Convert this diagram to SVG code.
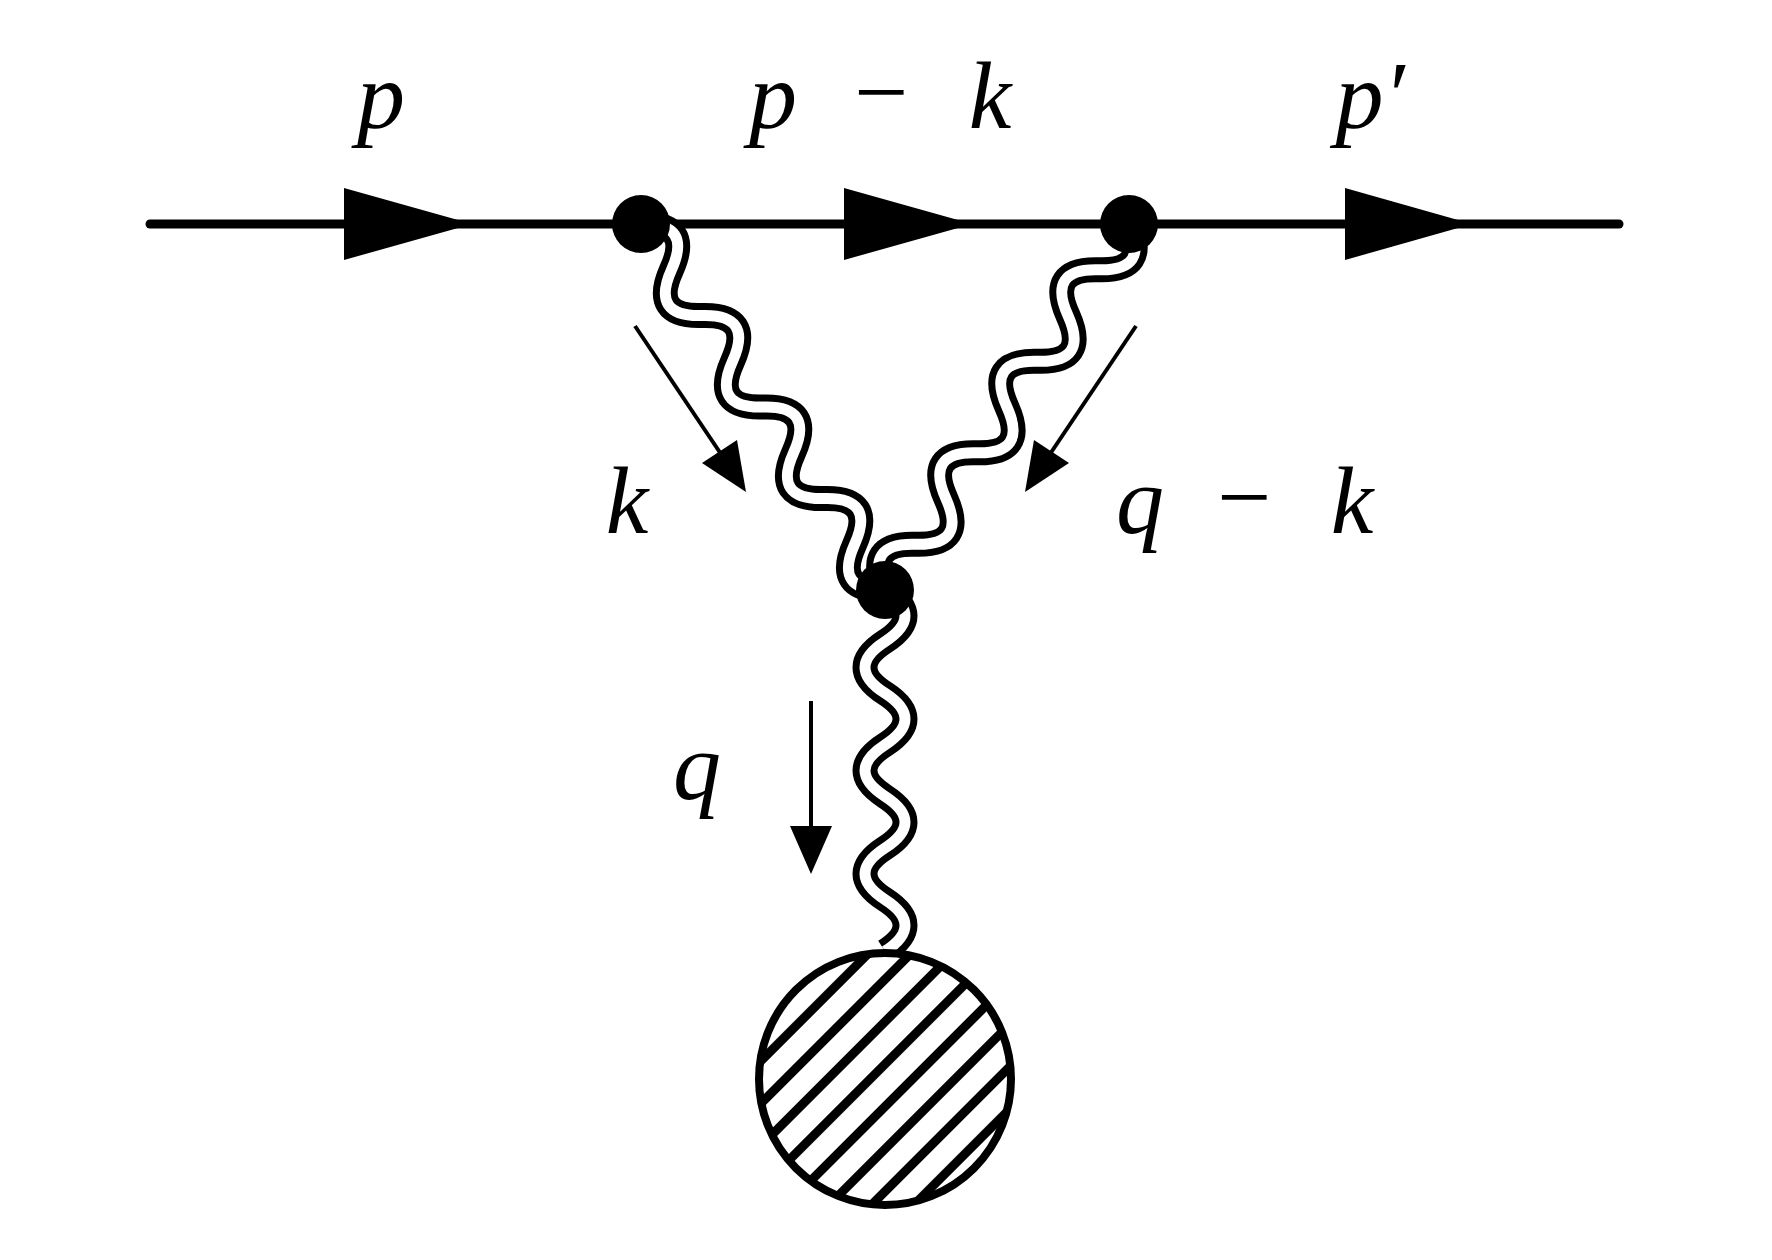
<svg xmlns="http://www.w3.org/2000/svg" width="1772" height="1260" viewBox="0 0 1772 1260">
<style>
.lbl{font-family:"Liberation Serif","DejaVu Serif",serif;font-style:italic;font-size:96px;fill:#000}
.mn{font-family:"Liberation Serif","DejaVu Serif",serif;font-style:normal;font-size:96px;fill:#000}
.wo{fill:none;stroke:#000;stroke-width:25;stroke-linecap:butt}
.wi{fill:none;stroke:#fff;stroke-width:11;stroke-linecap:butt}
.mom{stroke:#000;stroke-width:4;fill:none}
</style>
<defs>
<pattern id="hatch" width="30" height="30" patternUnits="userSpaceOnUse" patternTransform="rotate(45 885 1079)">
<rect width="30" height="30" fill="#fff"/><rect x="0" y="0" width="9" height="30" fill="#000"/>
</pattern>
<path id="w8" d="M0,0 q27.5,-44 55,0 t55,0 t55,0 t55,0 t55,0 t55,0 t55,0 t55,0"/>
<path id="w7" d="M0,0 q25.8,-40 51.6,0 t51.6,0 t51.6,0 t51.6,0 t51.6,0 t51.6,0 t51.6,0"/>
</defs>
<rect width="1772" height="1260" fill="#fff"/>
<g id="connectors">
<line x1="150" y1="224" x2="1619" y2="224" stroke="#000" stroke-width="9" stroke-linecap="round"/>
<polygon points="344,188 458,220 458,228 344,260"/>
<polygon points="844,188 958,220 958,228 844,260"/>
<polygon points="1345,188 1458,220 1458,228 1345,260"/>
<g transform="translate(641,224) rotate(56.3)"><use href="#w8" class="wo"/><use href="#w8" class="wi"/></g>
<g transform="translate(1129,224) rotate(123.7)"><use href="#w8" class="wo"/><use href="#w8" class="wi"/></g>
<g transform="translate(885,590) rotate(90)"><use href="#w7" class="wo"/><use href="#w7" class="wi"/></g>
<line class="mom" x1="635" y1="326" x2="725" y2="460"/>
<polygon points="746,492 702,463 737,440"/>
<line class="mom" x1="1136" y1="326" x2="1046" y2="460"/>
<polygon points="1025,492 1034,440 1069,463"/>
<line class="mom" x1="811" y1="701" x2="811" y2="830"/>
<polygon points="811,874 790,826 832,826"/>
</g>
<g id="v1"><circle cx="641" cy="224" r="29"/></g>
<g id="v2"><circle cx="1129" cy="224" r="29"/></g>
<g id="v3"><circle cx="885" cy="590" r="29"/></g>
<g id="blob"><circle cx="885" cy="1079" r="126" fill="url(#hatch)" stroke="#000" stroke-width="8"/></g>
<g id="labels">
<text class="lbl" x="381" y="128" text-anchor="middle">p</text>
<text class="lbl" x="773" y="128" text-anchor="middle">p</text>
<text class="mn" x="881" y="124" text-anchor="middle">−</text>
<text class="lbl" x="990" y="128" text-anchor="middle">k</text>
<text class="lbl" x="1370" y="128" text-anchor="middle">p′</text>
<text class="lbl" x="627" y="533" text-anchor="middle">k</text>
<text class="lbl" x="1140" y="533" text-anchor="middle">q</text>
<text class="mn" x="1244" y="529" text-anchor="middle">−</text>
<text class="lbl" x="1352" y="533" text-anchor="middle">k</text>
<text class="lbl" x="697" y="799" text-anchor="middle">q</text>
</g>
</svg>
